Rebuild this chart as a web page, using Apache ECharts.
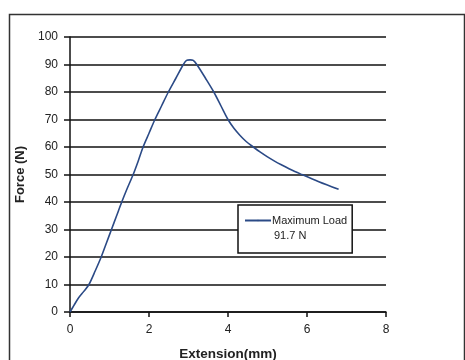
<!DOCTYPE html>
<html lang="en">
<head>
	<meta charset="UTF-8">
	<title>Force vs Extension</title>
	<script src="https://cdn.jsdelivr.net/npm/echarts@6/dist/echarts.min.js"></script>
	<style>
		html, body { margin: 0; padding: 0; background: #fff; }
	</style>
</head>
<body>
	<div id="main" style="width: 465px;height:360px;"></div>
	<script type="text/javascript">
	// extension (mm)
	var extension = [0, 0.1, 0.21, 0.35, 0.48, 0.64, 0.79, 0.92, 1.05, 1.18, 1.31, 1.45, 1.6, 1.73, 1.85, 2.0,
		2.15, 2.32, 2.49, 2.68, 2.87, 2.95, 3.04, 3.12, 3.21, 3.43, 3.64, 3.82, 4.0, 4.15, 4.3, 4.46, 4.64,
		4.81, 5.0, 5.2, 5.4, 5.6, 5.87, 6.3, 6.8];
	// force (N)
	var force = [0, 2.4, 5, 7.5, 10, 15, 20, 25, 30, 35, 40, 45, 50, 55, 60, 65,
		70, 75, 80, 85, 90, 91.5, 91.7, 91.5, 90, 85, 80, 75, 70, 66.8, 64.3, 62, 60,
		58.2, 56.4, 54.7, 53.2, 51.7, 50, 47.4, 44.6];
	var xTicks = [0, 2, 4, 6, 8];
	var yTicks = [0, 10, 20, 30, 40, 50, 60, 70, 80, 90, 100];
	var seriesName = 'Maximum Load';
	var maxLoadText = '91.7 N';

	var myChart = echarts.init(document.getElementById('main'));

	var points = [];
	for (var i = 0; i < extension.length; i++) {
		points.push([extension[i], force[i]]);
	}

	var font = 'Liberation Sans, Arial, sans-serif';

	var option = {
		animation: false,
		backgroundColor: '#fff',
		grid: { left: 70, top: 37, width: 316, height: 275, outerBoundsMode: 'none' },
		legend: {
			data: [seriesName],
			left: 238,
			top: 205,
			padding: [10, 5, 27, 6],
			borderColor: '#111',
			borderWidth: 1.5,
			backgroundColor: '#fff',
			itemWidth: 26,
			itemHeight: 2,
			itemGap: 2,
			textStyle: { fontFamily: font, fontSize: 11, color: '#222', padding: [0, 0, 0, -4] }
		},
		xAxis: {
			type: 'value',
			min: xTicks[0],
			max: xTicks[xTicks.length - 1],
			interval: 2,
			name: 'Extension(mm)',
			nameLocation: 'middle',
			nameGap: 35,
			nameTextStyle: { fontFamily: font, fontSize: 13.5, fontWeight: 'bold', color: '#222' },
			axisLine: { lineStyle: { color: '#111', width: 1.5 } },
			axisTick: { show: true, inside: false, length: 5, lineStyle: { color: '#111', width: 1.5 } },
			axisLabel: { margin: 12, fontFamily: font, fontSize: 12, color: '#222' },
			splitLine: { show: false }
		},
		yAxis: {
			type: 'value',
			min: yTicks[0],
			max: yTicks[yTicks.length - 1],
			interval: 10,
			name: 'Force (N)',
			nameLocation: 'middle',
			nameGap: 42,
			nameTextStyle: { fontFamily: font, fontSize: 13, fontWeight: 'bold', color: '#222' },
			axisLine: { show: true, lineStyle: { color: '#111', width: 1.5 } },
			axisTick: { show: true, inside: false, length: 6, lineStyle: { color: '#111', width: 1.5 } },
			axisLabel: { margin: 12, fontFamily: font, fontSize: 12, color: '#222' },
			splitLine: { show: true, lineStyle: { color: '#111', width: 1.5 } }
		},
		graphic: [
			{
				type: 'rect',
				left: 7, top: 12,
				shape: { width: 455, height: 360 },
				style: { fill: 'none', stroke: '#333', lineWidth: 1.5 },
				silent: true
			},
			{
				type: 'text',
				left: 274, top: 230,
				z: 100,
				style: { text: maxLoadText, font: '11px ' + font, fill: '#222' }
			}
		],
		series: [{
			name: seriesName,
			type: 'line',
			data: points,
			symbol: 'none',
			smooth: 0.3,
			lineStyle: { color: '#2b4a86', width: 1.6 },
			itemStyle: { color: '#2b4a86' }
		}]
	};
	myChart.setOption(option);
	</script>
</body>
</html>
